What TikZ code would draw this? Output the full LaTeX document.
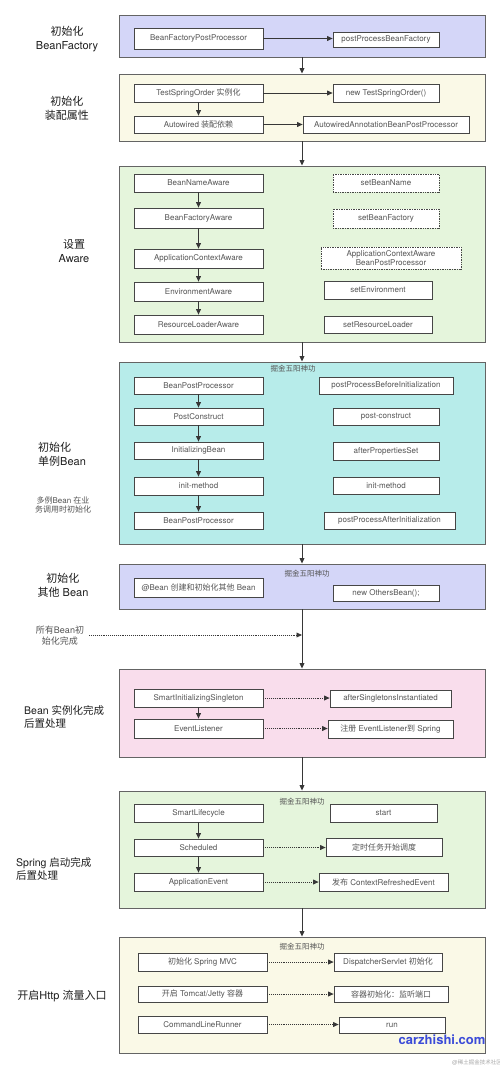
\documentclass[tikz,border=0pt]{standalone}
\usepackage{fontspec}
\setmainfont{TeX Gyre Heros}
\newfontfamily\cjk{Noto Sans CJK SC}
\newcommand\zh[1]{{\cjk #1}}
\usetikzlibrary{arrows.meta,calc}
\definecolor{lav}{RGB}{212,214,248}
\definecolor{cream}{RGB}{250,249,231}
\definecolor{lgreen}{RGB}{229,245,220}
\definecolor{lcyan}{RGB}{183,236,234}
\definecolor{lpink}{RGB}{249,221,236}
\definecolor{secline}{RGB}{100,100,100}
\definecolor{boxline}{RGB}{70,70,70}
\definecolor{boxtext}{RGB}{85,85,85}
\definecolor{arrcol}{RGB}{55,55,55}
\definecolor{lblcol}{RGB}{30,30,30}
\definecolor{wmblue}{RGB}{59,75,216}
\newcommand\bb[7][]{%
 \pgfmathsetmacro\bcx{(#3+#5)/2}%
 \pgfmathsetmacro\bcy{(#4+#6)/2}%
 \pgfmathsetmacro\bw{#5-#3}%
 \pgfmathsetmacro\bh{#6-#4}%
 \node[#1, minimum width=\bw pt, minimum height=\bh pt] (#2) at (\bcx,\bcy) {#7};}
\begin{document}
\begin{tikzpicture}[x=1pt,y=-1pt,
 sec/.style={draw=secline, line width=0.9pt, inner sep=0pt},
 bx/.style={draw=boxline, fill=white, line width=0.7pt, font=\fontsize{8}{9.5}\selectfont, text=boxtext, inner sep=0pt, align=center},
 dbx/.style={bx, densely dotted},
 arr/.style={draw=arrcol, line width=0.9pt, -{Triangle[length=5.5pt,width=4.8pt]}},
 darr/.style={arr, densely dotted},
 lbl/.style={font=\fontsize{11}{14}\selectfont, text=lblcol, inner sep=0pt},
 slbl/.style={font=\fontsize{8}{9.5}\selectfont, text=boxtext, inner sep=0pt, align=center},
 ttl/.style={font=\fontsize{7.5}{9}\selectfont, text=boxtext, inner sep=0pt}]
\fill[white] (0,0) rectangle (500,1069);
\useasboundingbox (0,0) rectangle (500,1069);

% Section 1
\bb[sec, fill=lav]{s1}{119}{15}{485}{57}{}
\bb[bx]{a1}{134}{28}{263}{49}{BeanFactoryPostProcessor}
\bb[bx]{a2}{333}{32}{439}{47}{postProcessBeanFactory}
\draw[arr] (a1.east) -- (a1.east -| a2.west);
\node[lbl, align=center] (l1) at (67,39) {\zh{初始化}\\BeanFactory};

% Section 2
\bb[sec, fill=cream]{s2}{119}{74}{485}{141}{}
\bb[bx]{b1}{134}{84}{263}{102}{TestSpringOrder \zh{实例化}}
\bb[bx]{b2}{333}{84}{439}{102}{new TestSpringOrder()}
\bb[bx]{b3}{134}{116}{263}{133}{Autowired \zh{装配依赖}}
\bb[bx]{b4}{303}{116}{469}{133}{AutowiredAnnotationBeanPostProcessor}
\draw[arr] (b1.east) -- (b1.east -| b2.west);
\draw[arr] (b3.east) -- (b3.east -| b4.west);
\draw[arr] (b1.south) -- (b3.north);
\node[lbl, align=center] (l2) at (67,108) {\zh{初始化}\\\zh{装配属性}};

% Section 3
\bb[sec, fill=lgreen]{s3}{119}{166}{485}{342}{}
\bb[bx]{c1}{134}{174}{263}{192}{BeanNameAware}
\bb[bx]{c2}{134}{208}{263}{228}{BeanFactoryAware}
\bb[bx]{c3}{134}{249}{263}{268}{ApplicationContextAware}
\bb[bx]{c4}{134}{282}{263}{301}{EnvironmentAware}
\bb[bx]{c5}{134}{315}{263}{334}{ResourceLoaderAware}
\bb[dbx]{d1}{333}{174}{439}{192}{setBeanName}
\bb[dbx]{d2}{333}{209}{439}{228}{setBeanFactory}
\bb[dbx]{d3}{321}{247}{461}{269}{ApplicationContextAware\\BeanPostProcessor}
\bb[bx]{d4}{324}{281}{432}{299}{setEnvironment}
\bb[bx]{d5}{324}{316}{432}{333}{setResourceLoader}
\draw[arr] (c1.south) -- (c2.north);
\draw[arr] (c2.south) -- (c3.north);
\draw[arr] (c3.south) -- (c4.north);
\draw[arr] (c4.south) -- (c5.north);
\node[lbl, align=center] (l3) at (74,251) {\zh{设置}\\Aware};

% Section 4
\bb[sec, fill=lcyan]{s4}{119}{362}{485}{544}{}
\node[ttl] (t4) at (293,369) {\zh{掘金五阳神功}};
\bb[bx]{e1}{134}{377}{263}{394}{BeanPostProcessor}
\bb[bx]{e2}{134}{408}{263}{425}{PostConstruct}
\bb[bx]{e3}{134}{442}{263}{459}{InitializingBean}
\bb[bx]{e4}{134}{477}{263}{495}{init-method}
\bb[bx]{e5}{134}{512}{263}{529}{BeanPostProcessor}
\bb[bx]{f1}{319}{377}{453}{394}{postProcessBeforeInitialization}
\bb[bx]{f2}{333}{408}{439}{425}{post-construct}
\bb[bx]{f3}{333}{442}{439}{460}{afterPropertiesSet}
\bb[bx]{f4}{333}{477}{439}{494}{init-method}
\bb[bx]{f5}{324}{512}{455}{529}{postProcessAfterInitialization}
\draw[arr] (e1.south) -- (e2.north);
\draw[arr] (e2.south) -- (e3.north);
\draw[arr] (e3.south) -- (e4.north);
\draw[arr] (e4.south) -- (e5.north);
\node[lbl, align=left, anchor=west] (l4) at (38,454) {\zh{初始化}\\\zh{单例}Bean};
\node[slbl] (l4b) at (63,505) {\zh{多例}Bean \zh{在业}\\\zh{务调用时初始化}};

% Section 5
\bb[sec, fill=lav]{s5}{119}{564}{485}{609}{}
\node[ttl] (t5) at (307,574) {\zh{掘金五阳神功}};
\bb[bx]{g1}{134}{578}{263}{597}{@Bean \zh{创建和初始化其他} Bean}
\bb[bx]{g2}{333}{585}{439}{601}{new OthersBean();}
\node[lbl, align=center] (l5) at (63,585) {\zh{初始化}\\\zh{其他} Bean};

% all beans done
\node[font=\fontsize{9}{11}\selectfont, text=boxtext, inner sep=0pt, align=center] (l5b) at (60,636) {\zh{所有}Bean\zh{初}\\\zh{始化完成}};
\coordinate (m) at (302,635);

% Section 6
\bb[sec, fill=lpink]{s6}{119}{669}{485}{757}{}
\bb[bx]{h1}{134}{689}{263}{707}{SmartInitializingSingleton}
\bb[bx]{h2}{330}{690}{451}{707}{afterSingletonsInstantiated}
\bb[bx]{h3}{134}{719}{263}{738}{EventListener}
\bb[bx]{h4}{328}{720}{453}{738}{\zh{注册} EventListener\zh{到} Spring}
\draw[darr] (h1.east) -- (h1.east -| h2.west);
\draw[darr] (h3.east) -- (h3.east -| h4.west);
\draw[arr] (h1.south) -- (h3.north);
\node[lbl, align=left, anchor=west, font=\fontsize{10.5}{12.5}\selectfont] (l6) at (24,717) {Bean \zh{实例化完成}\\\zh{后置处理}};

% Section 7
\bb[sec, fill=lgreen]{s7}{119}{791}{485}{908}{}
\node[ttl] (t7) at (302,802) {\zh{掘金五阳神功}};
\bb[bx]{i1}{134}{804}{263}{822}{SmartLifecycle}
\bb[bx]{i2}{330}{804}{437}{822}{start}
\bb[bx]{i3}{134}{839}{263}{856}{Scheduled}
\bb[bx]{i4}{326}{838}{442}{856}{\zh{定时任务开始调度}}
\bb[bx]{i5}{134}{873}{263}{891}{ApplicationEvent}
\bb[bx]{i6}{319}{873}{448}{891}{\zh{发布} ContextRefreshedEvent}
\draw[arr] (i1.south) -- (i3.north);
\draw[arr] (i3.south) -- (i5.north);
\draw[darr] (i3.east) -- (i3.east -| i4.west);
\draw[darr] (i5.east) -- (i5.east -| i6.west);
\node[lbl, align=left, anchor=west, font=\fontsize{10.5}{12.5}\selectfont] (l7) at (16,869) {Spring \zh{启动完成}\\\zh{后置处理}};

% Section 8
\bb[sec, fill=cream]{s8}{119}{937}{485}{1053}{}
\node[ttl] (t8) at (302,947) {\zh{掘金五阳神功}};
\bb[bx]{j1}{138}{953}{267}{971}{\zh{初始化} Spring MVC}
\bb[bx]{j2}{334}{953}{442}{971}{DispatcherServlet \zh{初始化}}
\bb[bx]{j3}{138}{986}{267}{1002}{\zh{开启} Tomcat/Jetty \zh{容器}}
\bb[bx]{j4}{334}{986}{448}{1002}{\zh{容器初始化：监听端口}}
\bb[bx]{j5}{138}{1016}{267}{1033}{CommandLineRunner}
\bb[bx]{j6}{339}{1017}{445}{1033}{run}
\draw[darr] (j1.east) -- (j1.east -| j2.west);
\draw[darr] (j3.east) -- (j3.east -| j4.west);
\draw[darr] (j5.east) -- (j5.east -| j6.west);
\node[lbl] (l8) at (62,996) {\zh{开启}Http \zh{流量入口}};

% main flow
\draw[arr] (s1.south) -- (s2.north);
\draw[arr] (s2.south) -- (s3.north);
\draw[arr] (s3.south) -- (s4.north);
\draw[arr] (s4.south) -- (s5.north);
\draw[arr] (s5.south) -- (s6.north);
\draw[arr] (s6.south) -- (s7.north);
\draw[arr] (s7.south) -- (s8.north);
\draw[darr, shorten <=5pt] (l5b.east |- m) -- (m);

% watermarks
\node[font=\bfseries\fontsize{13}{13}\selectfont, text=wmblue, inner sep=0pt] (wm) at (442,1040) {carzhishi.com};
\node[font=\fontsize{5.5}{6}\selectfont, text=black!35, inner sep=0pt] (wm2) at (477,1063) {@\zh{稀土掘金技术社区}};
\end{tikzpicture}
\end{document}
